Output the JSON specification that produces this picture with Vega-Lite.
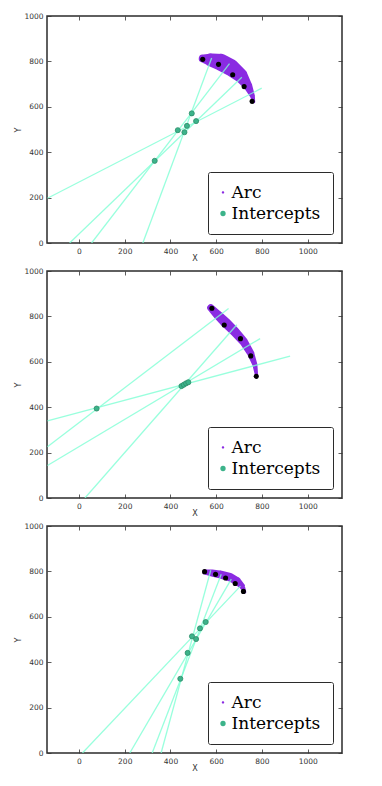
{
  "$schema": "https://vega.github.io/schema/vega-lite/v6.json",
  "background": "white",
  "padding": {"left": 14, "top": 11, "right": 5, "bottom": 5},
  "bounds": "flush",
  "spacing": 28,
  "datasets": {
    "arc": [
      {"panel": 1, "x": 541, "y": 813, "w": 35},
      {"panel": 1, "x": 576, "y": 807, "w": 57},
      {"panel": 1, "x": 620, "y": 796, "w": 74},
      {"panel": 1, "x": 664, "y": 773, "w": 74},
      {"panel": 1, "x": 707, "y": 738, "w": 61},
      {"panel": 1, "x": 738, "y": 693, "w": 39},
      {"panel": 1, "x": 758, "y": 649, "w": 22},
      {"panel": 1, "x": 764, "y": 622, "w": 13},
      {"panel": 2, "x": 576, "y": 838, "w": 31},
      {"panel": 2, "x": 606, "y": 807, "w": 39},
      {"panel": 2, "x": 642, "y": 772, "w": 44},
      {"panel": 2, "x": 681, "y": 733, "w": 41},
      {"panel": 2, "x": 720, "y": 689, "w": 37},
      {"panel": 2, "x": 751, "y": 637, "w": 31},
      {"panel": 2, "x": 769, "y": 588, "w": 22},
      {"panel": 2, "x": 777, "y": 536, "w": 13},
      {"panel": 3, "x": 550, "y": 797, "w": 22},
      {"panel": 3, "x": 581, "y": 793, "w": 31},
      {"panel": 3, "x": 620, "y": 786, "w": 35},
      {"panel": 3, "x": 659, "y": 775, "w": 37},
      {"panel": 3, "x": 690, "y": 758, "w": 35},
      {"panel": 3, "x": 712, "y": 736, "w": 26},
      {"panel": 3, "x": 725, "y": 710, "w": 13}
    ],
    "dots": [
      {"panel": 1, "x": 541, "y": 809},
      {"panel": 1, "x": 610, "y": 787},
      {"panel": 1, "x": 672, "y": 741},
      {"panel": 1, "x": 722, "y": 689},
      {"panel": 1, "x": 757, "y": 624},
      {"panel": 2, "x": 581, "y": 836},
      {"panel": 2, "x": 635, "y": 762},
      {"panel": 2, "x": 706, "y": 702},
      {"panel": 2, "x": 751, "y": 626},
      {"panel": 2, "x": 775, "y": 536},
      {"panel": 3, "x": 549, "y": 799},
      {"panel": 3, "x": 597, "y": 787},
      {"panel": 3, "x": 641, "y": 771},
      {"panel": 3, "x": 683, "y": 747},
      {"panel": 3, "x": 719, "y": 712}
    ],
    "lines": [
      {"panel": 1, "x": 279, "y": 0, "x2": 580, "y2": 815},
      {"panel": 1, "x": 55, "y": 0, "x2": 658, "y2": 790},
      {"panel": 1, "x": -41, "y": 0, "x2": 712, "y2": 730},
      {"panel": 1, "x": -138, "y": 197, "x2": 799, "y2": 682},
      {"panel": 2, "x": -138, "y": 226, "x2": 654, "y2": 835},
      {"panel": 2, "x": -138, "y": 143, "x2": 792, "y2": 702},
      {"panel": 2, "x": -138, "y": 340, "x2": 923, "y2": 625},
      {"panel": 2, "x": 26, "y": 0, "x2": 690, "y2": 763},
      {"panel": 3, "x": 359, "y": 0, "x2": 576, "y2": 805},
      {"panel": 3, "x": 320, "y": 0, "x2": 622, "y2": 787},
      {"panel": 3, "x": 222, "y": 0, "x2": 666, "y2": 766},
      {"panel": 3, "x": 15, "y": 0, "x2": 706, "y2": 735}
    ],
    "ints": [
      {"panel": 1, "x": 331, "y": 362},
      {"panel": 1, "x": 432, "y": 497},
      {"panel": 1, "x": 461, "y": 488},
      {"panel": 1, "x": 472, "y": 516},
      {"panel": 1, "x": 493, "y": 571},
      {"panel": 1, "x": 512, "y": 537},
      {"panel": 2, "x": 77, "y": 394},
      {"panel": 2, "x": 448, "y": 493},
      {"panel": 2, "x": 458, "y": 499},
      {"panel": 2, "x": 468, "y": 505},
      {"panel": 2, "x": 478, "y": 510},
      {"panel": 3, "x": 443, "y": 327},
      {"panel": 3, "x": 475, "y": 441},
      {"panel": 3, "x": 494, "y": 514},
      {"panel": 3, "x": 512, "y": 502},
      {"panel": 3, "x": 529, "y": 549},
      {"panel": 3, "x": 554, "y": 577}
    ]
  },
  "resolve": {"legend": {"color": "independent", "shape": "independent"}},
  "vconcat": [
    {
      "width": 295, "height": 227,
      "layer": [
        {
          "data": {"name": "arc"},
          "transform": [{"filter": "datum.panel === 1"}],
          "mark": {"type": "trail", "color": "#8a2be2", "clip": true},
          "encoding": {
            "x": {"field": "x", "type": "quantitative", "scale": {"domain": [-140, 1150], "nice": false, "zero": false}, "axis": {"orient": "bottom", "values": [0, 200, 400, 600, 800, 1000], "format": "d", "title": "X", "labelFlush": false}},
            "y": {"field": "y", "type": "quantitative", "scale": {"domain": [0, 1000], "nice": false}, "axis": {"orient": "left", "values": [0, 200, 400, 600, 800, 1000], "format": "d", "title": "Y"}},
            "size": {"field": "w", "type": "quantitative", "scale": {"domain": [0, 1000], "range": [0, 229]}, "legend": null}
          }
        },
        {
          "data": {"name": "lines"},
          "transform": [{"filter": "datum.panel === 1"}],
          "mark": {"type": "rule", "color": "#7fffd4", "strokeWidth": 1.3, "opacity": 0.8, "clip": true},
          "encoding": {
            "x": {"field": "x", "type": "quantitative", "axis": null},
            "y": {"field": "y", "type": "quantitative", "axis": null},
            "x2": {"field": "x2"},
            "y2": {"field": "y2"}
          }
        },
        {
          "data": {"name": "dots"},
          "transform": [{"filter": "datum.panel === 1"}],
          "mark": {"type": "point", "filled": true, "color": "black", "size": 26, "opacity": 1, "clip": true},
          "encoding": {
            "x": {"field": "x", "type": "quantitative", "axis": {"orient": "top", "labels": false, "title": null, "values": [0, 200, 400, 600, 800, 1000]}},
            "y": {"field": "y", "type": "quantitative", "axis": {"orient": "right", "labels": false, "title": null, "values": [0, 200, 400, 600, 800, 1000]}}
          }
        },
        {
          "data": {"name": "ints"},
          "transform": [{"filter": "datum.panel === 1"}],
          "mark": {"type": "point", "filled": true, "size": 26, "stroke": "#2e8b6a", "strokeWidth": 0.8, "opacity": 1, "clip": true},
          "encoding": {
            "x": {"field": "x", "type": "quantitative", "axis": null},
            "y": {"field": "y", "type": "quantitative", "axis": null},
            "color": {"datum": "Intercepts", "type": "nominal", "scale": {"domain": ["Arc", "Intercepts"], "range": ["#8a2be2", "#3cb38a"]},
              "legend": {"orient": "bottom-right", "offset": 9, "title": null}},
            "shape": {"datum": "Intercepts", "type": "nominal", "scale": {"domain": ["Arc", "Intercepts"], "range": ["M-0.45,0A0.45,0.45,0,1,1,0.45,0A0.45,0.45,0,1,1,-0.45,0Z", "circle"]},
              "legend": {"orient": "bottom-right", "offset": 9, "title": null}}
          }
        }
      ]
    },
    {
      "width": 295, "height": 227,
      "layer": [
        {
          "data": {"name": "arc"},
          "transform": [{"filter": "datum.panel === 2"}],
          "mark": {"type": "trail", "color": "#8a2be2", "clip": true},
          "encoding": {
            "x": {"field": "x", "type": "quantitative", "scale": {"domain": [-140, 1150], "nice": false, "zero": false}, "axis": {"orient": "bottom", "values": [0, 200, 400, 600, 800, 1000], "format": "d", "title": "X", "labelFlush": false}},
            "y": {"field": "y", "type": "quantitative", "scale": {"domain": [0, 1000], "nice": false}, "axis": {"orient": "left", "values": [0, 200, 400, 600, 800, 1000], "format": "d", "title": "Y"}},
            "size": {"field": "w", "type": "quantitative", "scale": {"domain": [0, 1000], "range": [0, 229]}, "legend": null}
          }
        },
        {
          "data": {"name": "lines"},
          "transform": [{"filter": "datum.panel === 2"}],
          "mark": {"type": "rule", "color": "#7fffd4", "strokeWidth": 1.3, "opacity": 0.8, "clip": true},
          "encoding": {
            "x": {"field": "x", "type": "quantitative", "axis": null},
            "y": {"field": "y", "type": "quantitative", "axis": null},
            "x2": {"field": "x2"},
            "y2": {"field": "y2"}
          }
        },
        {
          "data": {"name": "dots"},
          "transform": [{"filter": "datum.panel === 2"}],
          "mark": {"type": "point", "filled": true, "color": "black", "size": 26, "opacity": 1, "clip": true},
          "encoding": {
            "x": {"field": "x", "type": "quantitative", "axis": {"orient": "top", "labels": false, "title": null, "values": [0, 200, 400, 600, 800, 1000]}},
            "y": {"field": "y", "type": "quantitative", "axis": {"orient": "right", "labels": false, "title": null, "values": [0, 200, 400, 600, 800, 1000]}}
          }
        },
        {
          "data": {"name": "ints"},
          "transform": [{"filter": "datum.panel === 2"}],
          "mark": {"type": "point", "filled": true, "size": 26, "stroke": "#2e8b6a", "strokeWidth": 0.8, "opacity": 1, "clip": true},
          "encoding": {
            "x": {"field": "x", "type": "quantitative", "axis": null},
            "y": {"field": "y", "type": "quantitative", "axis": null},
            "color": {"datum": "Intercepts", "type": "nominal", "scale": {"domain": ["Arc", "Intercepts"], "range": ["#8a2be2", "#3cb38a"]},
              "legend": {"orient": "bottom-right", "offset": 9, "title": null}},
            "shape": {"datum": "Intercepts", "type": "nominal", "scale": {"domain": ["Arc", "Intercepts"], "range": ["M-0.45,0A0.45,0.45,0,1,1,0.45,0A0.45,0.45,0,1,1,-0.45,0Z", "circle"]},
              "legend": {"orient": "bottom-right", "offset": 9, "title": null}}
          }
        }
      ]
    },
    {
      "width": 295, "height": 227,
      "layer": [
        {
          "data": {"name": "arc"},
          "transform": [{"filter": "datum.panel === 3"}],
          "mark": {"type": "trail", "color": "#8a2be2", "clip": true},
          "encoding": {
            "x": {"field": "x", "type": "quantitative", "scale": {"domain": [-140, 1150], "nice": false, "zero": false}, "axis": {"orient": "bottom", "values": [0, 200, 400, 600, 800, 1000], "format": "d", "title": "X", "labelFlush": false}},
            "y": {"field": "y", "type": "quantitative", "scale": {"domain": [0, 1000], "nice": false}, "axis": {"orient": "left", "values": [0, 200, 400, 600, 800, 1000], "format": "d", "title": "Y"}},
            "size": {"field": "w", "type": "quantitative", "scale": {"domain": [0, 1000], "range": [0, 229]}, "legend": null}
          }
        },
        {
          "data": {"name": "lines"},
          "transform": [{"filter": "datum.panel === 3"}],
          "mark": {"type": "rule", "color": "#7fffd4", "strokeWidth": 1.3, "opacity": 0.8, "clip": true},
          "encoding": {
            "x": {"field": "x", "type": "quantitative", "axis": null},
            "y": {"field": "y", "type": "quantitative", "axis": null},
            "x2": {"field": "x2"},
            "y2": {"field": "y2"}
          }
        },
        {
          "data": {"name": "dots"},
          "transform": [{"filter": "datum.panel === 3"}],
          "mark": {"type": "point", "filled": true, "color": "black", "size": 26, "opacity": 1, "clip": true},
          "encoding": {
            "x": {"field": "x", "type": "quantitative", "axis": {"orient": "top", "labels": false, "title": null, "values": [0, 200, 400, 600, 800, 1000]}},
            "y": {"field": "y", "type": "quantitative", "axis": {"orient": "right", "labels": false, "title": null, "values": [0, 200, 400, 600, 800, 1000]}}
          }
        },
        {
          "data": {"name": "ints"},
          "transform": [{"filter": "datum.panel === 3"}],
          "mark": {"type": "point", "filled": true, "size": 26, "stroke": "#2e8b6a", "strokeWidth": 0.8, "opacity": 1, "clip": true},
          "encoding": {
            "x": {"field": "x", "type": "quantitative", "axis": null},
            "y": {"field": "y", "type": "quantitative", "axis": null},
            "color": {"datum": "Intercepts", "type": "nominal", "scale": {"domain": ["Arc", "Intercepts"], "range": ["#8a2be2", "#3cb38a"]},
              "legend": {"orient": "bottom-right", "offset": 9, "title": null}},
            "shape": {"datum": "Intercepts", "type": "nominal", "scale": {"domain": ["Arc", "Intercepts"], "range": ["M-0.45,0A0.45,0.45,0,1,1,0.45,0A0.45,0.45,0,1,1,-0.45,0Z", "circle"]},
              "legend": {"orient": "bottom-right", "offset": 9, "title": null}}
          }
        }
      ]
    }
  ],
  "config": {
    "view": {"stroke": "#2b2b2b", "strokeWidth": 1.5, "fill": "white"},
    "axis": {
      "grid": false, "domain": false, "tickSize": -4, "tickColor": "#333", "tickWidth": 0.8,
      "labelFont": "DejaVu Sans", "labelFontSize": 7.5, "labelColor": "#333", "labelPadding": 8,
      "titleFont": "DejaVu Sans", "titleFontSize": 8, "titleFontWeight": "normal", "titleColor": "#333"
    },
    "axisX": {"titlePadding": 0},
    "axisY": {"titlePadding": 1},
    "legend": {
      "symbolSize": 28, "padding": 12, "rowPadding": 3, "labelOffset": 0, "symbolOffset": -5.5,
      "labelFont": "DejaVu Serif", "labelFontSize": 17, "labelColor": "black",
      "strokeColor": "#2b2b2b", "fillColor": "white", "cornerRadius": 2,
      "symbolStrokeWidth": 0, "symbolOpacity": 1
    }
  }
}
